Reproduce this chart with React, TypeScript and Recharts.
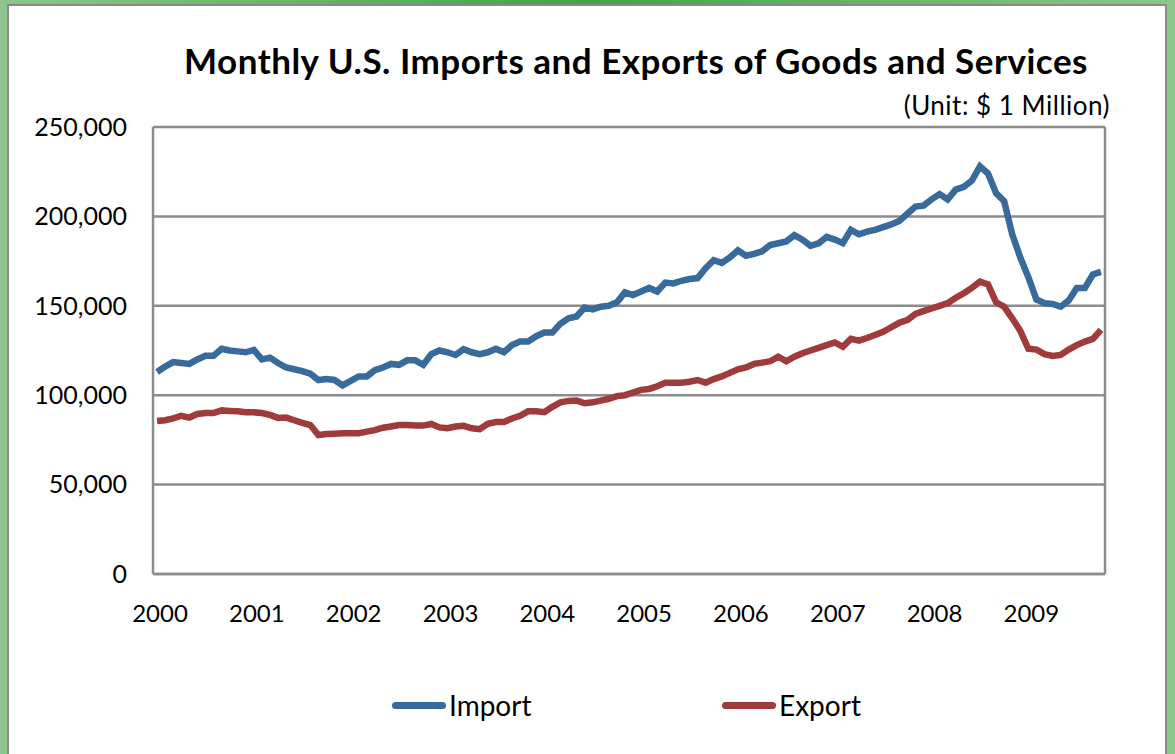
import React from 'react';
import { LineChart, Line, XAxis, YAxis, CartesianGrid, ReferenceLine } from 'recharts';

// Monthly values, Jan 2000 - Oct 2009, unit: $ 1 million
const years = ['2000', '2001', '2002', '2003', '2004', '2005', '2006', '2007', '2008', '2009'];

const importValues = [
  113000, 116000, 118500, 118000, 117500, 120000, 122000, 122000, 126000, 125000, 124500, 124000,
  125300, 120000, 121000, 118000, 115500, 114500, 113500, 112000, 108500, 109000, 108500, 105500,
  108000, 110500, 110500, 114000, 115500, 117500, 117000, 119500, 119500, 117000, 123000, 125000,
  124000, 122500, 125700, 124000, 123000, 124000, 126000, 124000, 128000, 130000, 130000, 133000,
  135000, 135000, 140000, 143000, 144000, 149000, 148000, 149500, 150000, 152000, 157500, 156000,
  158000, 160000, 158000, 163000, 162500, 164000, 165000, 165500, 171000, 175500, 174000, 177000,
  181000, 178000, 179000, 180500, 184000, 185000, 186000, 189500, 187000, 183500, 185000, 188500,
  187000, 185000, 192500, 190000, 191500, 192500, 194000, 195500, 197500, 201500, 205500, 206000,
  209500, 212500, 209500, 215000, 216500, 220000, 228000, 224000, 213000, 208500, 190000, 177000,
  166000, 153500, 151500, 151000, 149500, 153000, 160000, 160000, 167500, 169000,
];

const exportValues = [
  85600, 86000, 87000, 88500, 87500, 89500, 90000, 90000, 91500, 91200, 91000, 90500,
  90400, 90000, 89000, 87300, 87500, 86000, 84500, 83300, 77700, 78300, 78500, 78700,
  78700, 78700, 79600, 80500, 81800, 82500, 83300, 83300, 83000, 83000, 83900, 82000,
  81500, 82500, 82900, 81500, 81000, 84000, 85000, 85000, 87000, 88500, 91000, 91000,
  90500, 93500, 96000, 96800, 97000, 95500, 96000, 97000, 98000, 99500, 100000, 101500,
  103000, 103500, 105000, 107000, 107000, 107000, 107500, 108500, 107000, 109000, 110500, 112500,
  114500, 115500, 117500, 118200, 119000, 121500, 119000, 121500, 123500, 125000, 126500, 128000,
  129500, 127100, 131500, 130500, 132000, 133700, 135500, 138000, 140500, 142000, 145500, 147000,
  148500, 150000, 151500, 154500, 157000, 160000, 163500, 162000, 152000, 149500, 143000, 136000,
  126000, 125500, 123000, 122000, 122500, 125500, 128000, 130000, 131500, 136500,
];

const yTicks = [0, 50000, 100000, 150000, 200000, 250000];
const xTicks = years.map((_, k) => k * 12);

const data = importValues.map((v, i) => ({ month: i, Import: v, Export: exportValues[i] }));

const IMPORT_COLOR = '#386b9c';
const EXPORT_COLOR = '#a03b3b';
const GRID = '#8c8c8c';
const FONT = 'Lato, "Noto Sans", sans-serif';

const fmt = (v: number) => v.toLocaleString('en-US');

export default function App() {
  return (
    <div
      style={{
        position: 'absolute',
        left: 0,
        top: 0,
        width: 1175,
        height: 754,
        overflow: 'hidden',
        background: 'linear-gradient(to right, #8cc68c, #45a345 50%, #8cc68c)',
        fontFamily: FONT,
      }}
    >
      <div
        style={{
          position: 'absolute',
          left: 7,
          top: 4,
          width: 1156,
          height: 760,
          background: '#fff',
          borderLeft: '2px solid #8a8a8a',
          borderTop: '2px solid #8a8a8a',
          borderRight: '2px solid #8a8a8a',
        }}
      />
      <div
        style={{
          position: 'absolute',
          left: 136,
          top: 43,
          width: 1000,
          textAlign: 'center',
          fontSize: 35,
          fontWeight: 700,
          letterSpacing: 0.5,
          lineHeight: 1,
          color: '#000',
        }}
      >
        Monthly U.S. Imports and Exports of Goods and Services
      </div>
      <div
        style={{
          position: 'absolute',
          left: 0,
          top: 92,
          width: 1110,
          textAlign: 'right',
          fontSize: 26,
          letterSpacing: 0.5,
          lineHeight: 1,
          color: '#000',
        }}
      >
        (Unit: $ 1 Million)
      </div>

      <div style={{ position: 'absolute', left: 0, top: 0 }}>
        <LineChart width={1175} height={754} data={data} margin={{ top: 127, right: 70, bottom: 120, left: 0 }}>
          <CartesianGrid horizontal vertical={false} stroke={GRID} strokeWidth={2.5} />
          <XAxis
            dataKey="month"
            type="number"
            domain={[-0.5, importValues.length - 0.5]}
            ticks={xTicks}
            tickFormatter={(v: number) => years[Math.round(v / 12)]}
            interval={0}
            height={60}
            tickLine={false}
            tickSize={0}
            tickMargin={31}
            axisLine={{ stroke: GRID, strokeWidth: 2.5 }}
            tick={{ fill: '#000', fontSize: 24, fontFamily: FONT, dx: 3 }}
          />
          <YAxis
            domain={[0, 250000]}
            ticks={yTicks}
            tickFormatter={fmt}
            width={153}
            tickLine={false}
            tickSize={0}
            tickMargin={26}
            axisLine={{ stroke: GRID, strokeWidth: 2.5 }}
            tick={{ fill: '#000', fontSize: 25, fontFamily: FONT }}
          />
          <ReferenceLine x={importValues.length - 0.5} stroke={GRID} strokeWidth={2.5} />
          <Line
            type="linear"
            dataKey="Import"
            stroke={IMPORT_COLOR}
            strokeWidth={6.5}
            dot={false}
            isAnimationActive={false}
          />
          <Line
            type="linear"
            dataKey="Export"
            stroke={EXPORT_COLOR}
            strokeWidth={6.5}
            dot={false}
            isAnimationActive={false}
          />
        </LineChart>
      </div>

      {/* legend */}
      <div
        style={{
          position: 'absolute',
          left: 392,
          top: 691,
          display: 'flex',
          alignItems: 'center',
          fontSize: 28,
          lineHeight: 1,
          color: '#000',
        }}
      >
        {[
          { name: 'Import', color: IMPORT_COLOR },
          { name: 'Export', color: EXPORT_COLOR },
        ].map((it, k) => (
          <div
            key={it.name}
            style={{ display: 'flex', alignItems: 'center', position: 'absolute', left: k ? 330 : 0, top: 0 }}
          >
            <span
              style={{
                display: 'inline-block',
                width: 54,
                height: 7,
                borderRadius: 4,
                background: it.color,
                marginRight: 3,
              }}
            />
            <span style={{ whiteSpace: 'nowrap' }}>{it.name}</span>
          </div>
        ))}
      </div>
    </div>
  );
}
